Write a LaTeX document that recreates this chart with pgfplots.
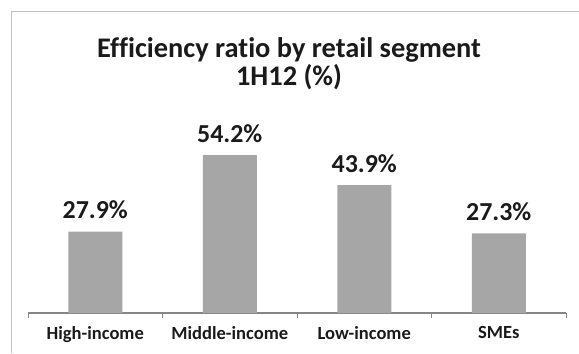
\documentclass[border=0pt]{standalone}
\usepackage{fontspec}
\setmainfont[Ligatures=NoCommon]{Carlito}
\usepackage{pgfplots}
\pgfplotsset{compat=1.18}
\definecolor{bargray}{HTML}{A6A6A6}
\definecolor{axgray}{HTML}{868686}
\definecolor{framegray}{HTML}{C0C0C0}
\definecolor{txt}{HTML}{1A1A1A}
\begin{document}
\begin{tikzpicture}[x=1bp,y=1bp]
\useasboundingbox (0,0) rectangle (579,353);
\draw[framegray,line width=1.2bp] (11.5,0) -- (11.5,341.5) -- (579,341.5);
\node[font=\fontsize{28.5}{28}\selectfont\bfseries,text=txt,align=center,anchor=base] at (289,268) {Efficiency ratio by retail segment\\1H12 (\%)};
\begin{axis}[
  at={(28bp,40bp)}, anchor=south west,
  scale only axis, width=538bp, height=204bp,
  xmin=-0.5, xmax=3.5, ymin=0, ymax=70,
  axis y line=none, axis x line=bottom,
  x axis line style={-, axgray, line width=1.2bp},
  xtick={0,1,2,3},
  xticklabels={High-income,Middle-income,Low-income,SMEs},
  major tick length=0pt,
  minor xtick={-0.5,0.5,1.5,2.5,3.5},
  minor tick length=5bp,
  tick align=outside,
  minor tick style={axgray, line width=0.8bp},
  xticklabel style={font=\fontsize{18.6}{22}\selectfont\bfseries, text=txt, yshift=-10bp},
  clip=false,
  ybar, bar width=54bp,
  nodes near coords={\pgfmathprintnumber[fixed,precision=1,fixed zerofill]{\pgfplotspointmeta}\%},
  nodes near coords style={font=\fontsize{26}{30}\selectfont\bfseries, text=txt, /pgf/number format/assume math mode=true, yshift=9bp},
]
\addplot[fill=bargray, draw=none] coordinates {(0,27.9) (1,54.2) (2,43.9) (3,27.3)};
\end{axis}
\end{tikzpicture}
\end{document}
